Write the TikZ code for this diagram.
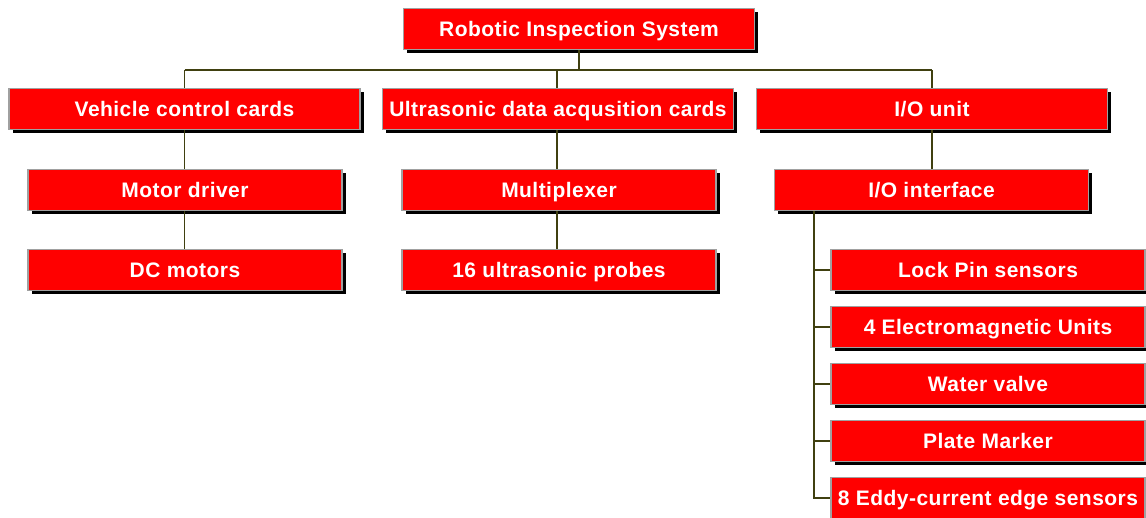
\documentclass[tikz,border=0pt]{standalone}
\usepackage{fontspec}
\setmainfont{Liberation Sans}[LetterSpace=2.2]
\usetikzlibrary{shadows}
\definecolor{linecol}{RGB}{64,64,16}
\definecolor{bordergray}{RGB}{160,160,160}
\tikzset{
  box/.style={fill=red, draw=bordergray, line width=1.5pt, inner sep=0pt,
    minimum height=41pt, text=white, text height=15pt, text depth=0pt,
    font=\fontsize{21}{24}\selectfont\bfseries,
    general shadow={fill=black, shadow xshift=3.5pt, shadow yshift=-3.5pt}},
  wide/.style={minimum width=351pt},
  narrow/.style={minimum width=314pt},
  link/.style={draw=linecol, line width=1.3pt}
}
\begin{document}
\begin{tikzpicture}[x=1pt,y=-1pt]
\useasboundingbox (0,0) rectangle (1146,517);
% nodes
\node[box,wide] (root) at (579,29) {Robotic Inspection System};
\node[box,wide] (veh) at (184.5,109) {Vehicle control cards};
\node[box,wide] (ult) at (558,109) {Ultrasonic data acqusition cards};
\node[box,wide] (io) at (932,109) {I/O unit};
\node[box,narrow] (motor) at (185,190) {Motor driver};
\node[box,narrow] (mux) at (559,190) {Multiplexer};
\node[box,narrow] (ioi) at (931.5,190) {I/O interface};
\node[box,narrow] (dc) at (185,270) {DC motors};
\node[box,narrow] (probes) at (559,270) {16 ultrasonic probes};
\node[box,narrow] (lock) at (988,270) {Lock Pin sensors};
\node[box,narrow] (em) at (988,327) {4 Electromagnetic Units};
\node[box,narrow] (water) at (988,384) {Water valve};
\node[box,narrow] (plate) at (988,441) {Plate Marker};
\node[box,narrow] (eddy) at (988,498) {8 Eddy-current edge sensors};
% connectors
\coordinate (bus) at (579,70);
\coordinate (trunk) at (814,210);
\draw[link] (root.south) -- (bus);
\draw[link] (veh.north |- bus) -- (io.north |- bus);
\draw[link] (veh.north |- bus) -- (veh.north);
\draw[link] (557,70) -- (ult.north -| 557,0);
\draw[link] (io.north |- bus) -- (io.north);
\draw[link] (veh.south) -- (motor.north -| veh.south);
\draw[link] (motor.south -| veh.south) -- (dc.north -| veh.south);
\draw[link] (ult.south -| 557,0) -- (mux.north -| 557,0);
\draw[link] (mux.south -| 557,0) -- (probes.north -| 557,0);
\draw[link] (io.south) -- (ioi.north -| io.south);
\draw[link] (ioi.south -| trunk) -- (trunk |- eddy.west) -- (eddy.west);
\foreach \n in {lock,em,water,plate}
  \draw[link] (trunk |- \n.west) -- (\n.west);
\end{tikzpicture}
\end{document}
